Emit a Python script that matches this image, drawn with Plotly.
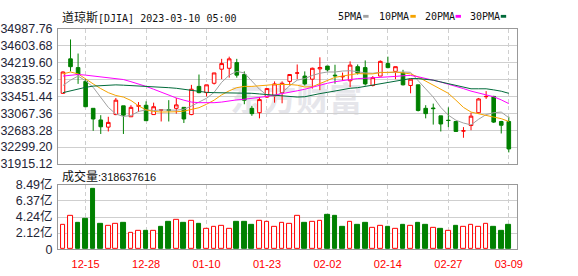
import plotly.graph_objects as go

# ---------------- data ----------------
dates = ['12-12','12-13','12-14','12-15','12-16','12-19','12-20','12-21','12-22','12-23',
         '12-27','12-28','12-29','12-30','01-03','01-04','01-05','01-06','01-09','01-10',
         '01-11','01-12','01-13','01-17','01-18','01-19','01-20','01-23','01-24','01-25',
         '01-26','01-27','01-30','01-31','02-01','02-02','02-03','02-06','02-07','02-08',
         '02-09','02-10','02-13','02-14','02-15','02-16','02-17','02-21','02-22','02-23',
         '02-24','02-27','02-28','03-01','03-02','03-03','03-06','03-07','03-08','03-09']
tick_labels = ['12-15','12-28','01-10','01-23','02-02','02-14','02-27','03-09']

opens = [33522,34305,34106,33793,33181,32917,32754,33039,33238,32989,
         33230,33250,33039,33140,33152,33181,33203,33039,33679,33537,
         33750,34070,34091,34220,33949,33181,33082,33437,33466,33537,
         33793,33980,33914,33843,34077,34141,33935,33895,33807,34127,
         34106,33700,33914,34198,34020,33985,33700,33715,33181,33188,
         33010,32910,32882,32665,32790,33081,33445,33451,32882,32882]
highs = [34020,34746,34426,33843,33181,33025,32989,33416,33238,33252,
         33323,33340,33309,33150,33366,33416,33203,33714,33949,33715,
         33985,34305,34355,34305,34020,33238,33437,33640,33793,33793,
         33949,34177,34020,34106,34340,34141,34171,33993,34248,34177,
         34269,33914,34269,34355,34127,34056,33843,33715,33252,33288,
         33010,33203,32882,32754,33081,33416,33572,33465,32896,32989]
lows = [33510,34020,33736,33210,32669,32598,32655,33025,32598,32985,
        33096,32897,33039,32882,32882,33060,32847,33025,33523,33451,
        33722,33843,33878,33878,33274,33010,32953,33416,33309,33295,
        33700,33843,33700,33629,33594,34020,33741,33812,33665,33949,
        33700,33679,33914,34091,33843,33700,33522,33110,32953,32811,
        32655,32754,32655,32512,32683,33060,33394,32847,32609,32179]
closes = [34006,34127,33949,33217,32939,32762,32861,33366,33025,33203,
          33240,32900,33217,33147,33131,33259,32939,33615,33537,33715,
          33985,34198,34305,33935,33366,33060,33380,33629,33736,33750,
          33949,33985,33736,34091,34106,34056,33920,33905,34163,33985,
          33736,33878,34248,34106,34127,33715,33843,33131,33060,33174,
          32825,32904,32655,32670,33003,33394,33451,32868,32796,32258]

ma5 = [33700,33821,33914,33807,33658,33437,33202,33053,32996,33017,
       33110,33145,33131,33145,33138,33138,33160,33231,33323,33409,
       33544,33771,33935,34020,33985,33807,33615,33480,33451,33537,
       33693,33821,33857,33928,33978,34006,34006,34028,34035,34013,
       33985,33978,33999,33992,34006,34006,33999,33821,33622,33437,
       33202,33025,32911,32847,32804,32932,33039,33081,33096,32968]
ma10 = [33963,34006,33963,33843,33736,33629,33537,33473,33437,33359,
        33238,33145,33110,33096,33096,33103,33117,33153,33195,33274,
        33366,33487,33579,33650,33679,33679,33700,33707,33722,33729,
        33722,33707,33665,33672,33743,33828,33885,33914,33949,33971,
        33963,33963,33992,34006,34006,33985,33963,33892,33800,33700,
        33615,33522,33366,33202,33096,33053,33017,32982,32946,32882]
ma20 = [33914,33935,33949,33935,33914,33899,33878,33857,33835,33786,
        33736,33679,33615,33544,33473,33416,33366,33323,33309,33302,
        33309,33323,33352,33373,33387,33402,33430,33451,33480,33508,
        33544,33579,33615,33665,33707,33750,33786,33814,33843,33857,
        33864,33871,33878,33892,33906,33921,33928,33899,33864,33828,
        33778,33729,33686,33629,33572,33530,33494,33444,33373,33288]
ma30 = [33537,33579,33622,33658,33686,33700,33707,33714,33707,33700,
        33693,33686,33679,33665,33650,33636,33615,33594,33558,33544,
        33537,33537,33537,33537,33530,33522,33508,33494,33473,33458,
        33444,33437,33444,33487,33515,33544,33579,33615,33636,33650,
        33679,33707,33736,33764,33800,33835,33857,33857,33843,33821,
        33780,33740,33690,33650,33625,33625,33625,33600,33570,33522]

# volume in 亿 (1e8 shares); 1 = up day (red), 0 = down day (green)
volumes = [3.19,4.43,3.44,3.98,7.95,3.35,3.06,3.31,3.44,2.19,
           2.40,2.44,2.40,2.98,3.56,3.81,3.44,3.69,3.35,2.69,
           2.94,3.06,2.73,3.56,3.56,3.23,3.69,3.56,2.98,3.44,
           3.33,4.43,3.48,3.56,3.69,4.47,4.35,2.98,3.56,3.23,
           3.48,2.86,3.06,2.98,2.73,3.23,3.06,3.48,3.23,2.86,
           2.73,2.44,3.11,2.98,3.23,2.98,3.31,2.98,2.48,3.186]
vol_up = [1,1,0,0,0,0,1,1,0,1,
          1,0,1,0,0,1,0,1,0,1,
          1,1,1,0,0,0,1,1,1,1,
          1,1,0,1,1,0,0,0,1,0,
          0,1,1,0,1,0,1,0,0,1,
          0,1,0,1,1,1,1,0,0,0]
latest_volume = 318637616

price_ticks = [31915.12, 32299.20, 32683.28, 33067.36, 33451.44,
               33835.52, 34219.60, 34603.68, 34987.76]
vol_ticks = [0, 2.12, 4.24, 6.37, 8.49]
vol_tick_text = ['0', '2.12亿', '4.24亿', '6.37亿', '8.49亿']

title_name = '道琼斯'
title_rest = '[DJIA] 2023-03-10 05:00'
vol_title = '成交量'
ma_names = ['5PMA', '10PMA', '20PMA', '30PMA']

# ---------------- style ----------------
W, H = 578, 276
RED = '#ff0000'
GREEN = '#008000'
MA_COLORS = ['#a0a0a0', '#f5a300', '#ff00ff', '#006a3a']
LABEL_COLOR = '#1f2637'
GRID = '#cfcfcf'
BORDER = '#999999'

def fx(x):
    return x / W

def fy(y):
    return 1 - y / H

xdom = [fx(55), fx(522)]
price_dom = [fy(165), fy(22)]
vol_dom = [fy(255), fy(187)]
xrange_ = [-0.65, 60.08]

fig = go.Figure()

fig.add_trace(go.Candlestick(
    x=dates, open=opens, high=highs, low=lows, close=closes,
    increasing=dict(line=dict(color=RED, width=1), fillcolor='white'),
    decreasing=dict(line=dict(color=GREEN, width=1), fillcolor=GREEN),
    whiskerwidth=0, xaxis='x', yaxis='y', showlegend=False, hoverinfo='skip'))

for vals, col in zip([ma5, ma10, ma20, ma30], MA_COLORS):
    fig.add_trace(go.Scatter(x=dates, y=vals, mode='lines',
                             line=dict(color=col, width=1),
                             xaxis='x', yaxis='y', showlegend=False, hoverinfo='skip'))

fig.add_trace(go.Bar(
    x=dates, y=volumes, width=0.62,
    marker=dict(color=['white' if u else GREEN for u in vol_up],
                line=dict(color=[RED if u else GREEN for u in vol_up], width=1)),
    xaxis='x2', yaxis='y2', showlegend=False, hoverinfo='skip'))

axis_common = dict(showline=True, mirror=True, linecolor=BORDER, linewidth=1,
                   zeroline=False, ticks='', fixedrange=True)

fig.update_layout(
    width=W, height=H,
    margin=dict(l=0, r=0, t=0, b=0),
    paper_bgcolor='white', plot_bgcolor='white',
    boxgap=0.32,
    bargap=0,
    xaxis=dict(domain=xdom, anchor='y', type='category', categoryarray=dates,
               range=xrange_, tickvals=tick_labels, showticklabels=False,
               showgrid=True, gridcolor=GRID, griddash='4px,3px', gridwidth=1,
               rangeslider=dict(visible=False), **axis_common),
    yaxis=dict(domain=price_dom, anchor='x', range=[price_ticks[0], price_ticks[-1]],
               tickvals=price_ticks, ticktext=[f'{v:.2f}' for v in price_ticks],
               showgrid=True, gridcolor=GRID, gridwidth=1, ticklabelstandoff=2,
               tickfont=dict(family='Liberation Sans', size=12.5, color=LABEL_COLOR),
               **axis_common),
    xaxis2=dict(domain=xdom, anchor='y2', type='category', categoryarray=dates,
                range=xrange_, tickvals=tick_labels, ticktext=tick_labels,
                showgrid=True, gridcolor=GRID, griddash='4px,3px', gridwidth=1,
                tickfont=dict(family='Liberation Sans', size=11, color=RED),
                ticklabelstandoff=5, **axis_common),
    yaxis2=dict(domain=vol_dom, anchor='x2', range=[0, vol_ticks[-1]],
                tickvals=vol_ticks, ticktext=vol_tick_text,
                showgrid=True, gridcolor=GRID, gridwidth=1, ticklabelstandoff=2,
                tickfont=dict(family='Liberation Sans, Noto Sans CJK SC', size=12.5,
                              color=LABEL_COLOR),
                **axis_common),
)

annotations = []
annotations.append(dict(
    x=fx(57), y=fy(9), xref='paper', yref='paper', xanchor='left', yanchor='middle',
    showarrow=False,
    text=f'<span style="font-family:Noto Sans CJK SC;font-size:12px">{title_name}</span>{title_rest}',
    font=dict(family='DejaVu Sans Mono', size=10, color='#111111')))
annotations.append(dict(
    x=fx(57), y=fy(177), xref='paper', yref='paper', xanchor='left', yanchor='middle',
    showarrow=False,
    text=f'<span style="font-family:Noto Sans CJK SC;font-size:12px">{vol_title}</span>:{latest_volume}',
    font=dict(family='Liberation Sans', size=11, color='#111111')))

legend_text_x = [338, 380, 426, 472]
legend_sw_x = [365.5, 413.5, 459.5, 505.5]
shapes = []
for name, col, tx, sx in zip(ma_names, MA_COLORS, legend_text_x, legend_sw_x):
    annotations.append(dict(
        x=fx(tx), y=fy(9), xref='paper', yref='paper', xanchor='left', yanchor='middle',
        showarrow=False, text=name,
        font=dict(family='DejaVu Sans Mono', size=10, color='#111111')))
    shapes.append(dict(type='rect', xref='paper', yref='paper',
                       x0=fx(sx), x1=fx(sx + 5.5), y0=fy(10.3), y1=fy(7.3),
                       fillcolor=col, line=dict(width=0)))

# watermark (drawn beneath data)
shapes.append(dict(type='rect', xref='paper', yref='paper', layer='below',
                   x0=fx(215), x1=fx(380), y0=fy(118), y1=fy(80),
                   fillcolor='rgba(0,0,0,0)', line=dict(width=0),
                   label=dict(text='<b>东方财富</b>', textposition='middle center',
                              font=dict(family='Noto Sans CJK SC', size=33,
                                        color='#e6e6eb'))))

fig.update_layout(annotations=annotations, shapes=shapes)
fig.write_html('out.html')
